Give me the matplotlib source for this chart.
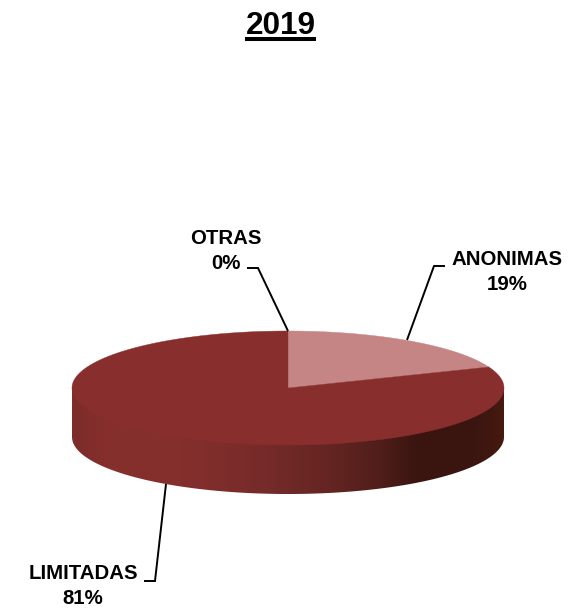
import numpy as np
import matplotlib
matplotlib.use("Agg")
import matplotlib.pyplot as plt
from matplotlib.colors import LinearSegmentedColormap
from matplotlib.patches import Polygon

plt.rcParams['font.family'] = ['Liberation Sans', 'DejaVu Sans']

# Data
title = '2019'
categories = ['ANONIMAS', 'LIMITADAS', 'OTRAS']
shares = [19, 81, 0]
percent_labels = ['19%', '81%', '0%']
slice_colors = ['#c68585', '#882f2e', '#7a2b2a']

# pie geometry in pixels
cx, cy = 288, 388
rx, ry = 216, 57
depth = 49


def ellipse_pts(start, end, dy=0, n=200):
    # angles are clockwise from the top, in degrees
    t = np.radians(np.linspace(start, end, n))
    return np.column_stack([cx + rx * np.sin(t), cy + dy - ry * np.cos(t)])


fig = plt.figure(figsize=(5.82, 6.10), dpi=100)
ax = fig.add_axes([0, 0, 1, 1])

# side of the pie with left-to-right shading, runs under the top to hide the seam
side_cmap = LinearSegmentedColormap.from_list('side', [
    (0.0, '#7c2c2a'), (0.08, '#862f2d'), (0.25, '#852f2d'), (0.45, '#752b29'),
    (0.6, '#642522'), (0.72, '#4f1d1a'), (0.8, '#3a1510'), (0.93, '#3a1611'),
    (1.0, '#45190f'),
])
grad = np.linspace(0, 1, 432).reshape(1, -1)
img = ax.imshow(grad, cmap=side_cmap, extent=[cx - rx, cx + rx, cy + ry + depth, cy],
                aspect='auto', zorder=1)
side_path = np.vstack([ellipse_pts(90, 270, dy=-6), ellipse_pts(270, 90, dy=depth)])
side_poly = Polygon(side_path, closed=True, facecolor='none', edgecolor='none',
                    transform=ax.transData)
ax.add_patch(side_poly)
img.set_clip_path(side_poly)

# top of the pie, built from the shares
start = 0
for share, color in zip(shares, slice_colors):
    end = start + 360 * share / sum(shares)
    if share > 0:
        pts = np.vstack([[cx, cy], ellipse_pts(start, end)])
        ax.add_patch(Polygon(pts, closed=True, facecolor=color, edgecolor=color,
                             linewidth=0.3, zorder=2))
    start = end

# labels with leader lines
label_pos = [(507, 272), (83, 586), (226, 251)]
leaders = [
    ([445, 434, 407], [266, 266, 340]),
    ([144, 155, 166], [581, 581, 484]),
    ([247, 258, 288], [268, 268, 331]),
]
for name, pct, pos, leader in zip(categories, percent_labels, label_pos, leaders):
    ax.text(pos[0], pos[1], name + '\n' + pct, ha='center', va='center',
            fontsize=14.7, fontweight='bold', color='black', linespacing=1.4, zorder=4)
    ax.plot(leader[0], leader[1], color='black', lw=1.4, zorder=3,
            solid_joinstyle='miter', solid_capstyle='butt')

# title with underline
ax.text(280.5, 26, title, ha='center', va='center', fontsize=22.7, fontweight='bold', color='black')
ax.plot([245, 316], [39, 39], color='black', lw=2.9, solid_capstyle='butt')

ax.set_xlim(0, 582)
ax.set_ylim(610, 0)
ax.axis('off')
fig.savefig('out.png', dpi=100, facecolor='white')
